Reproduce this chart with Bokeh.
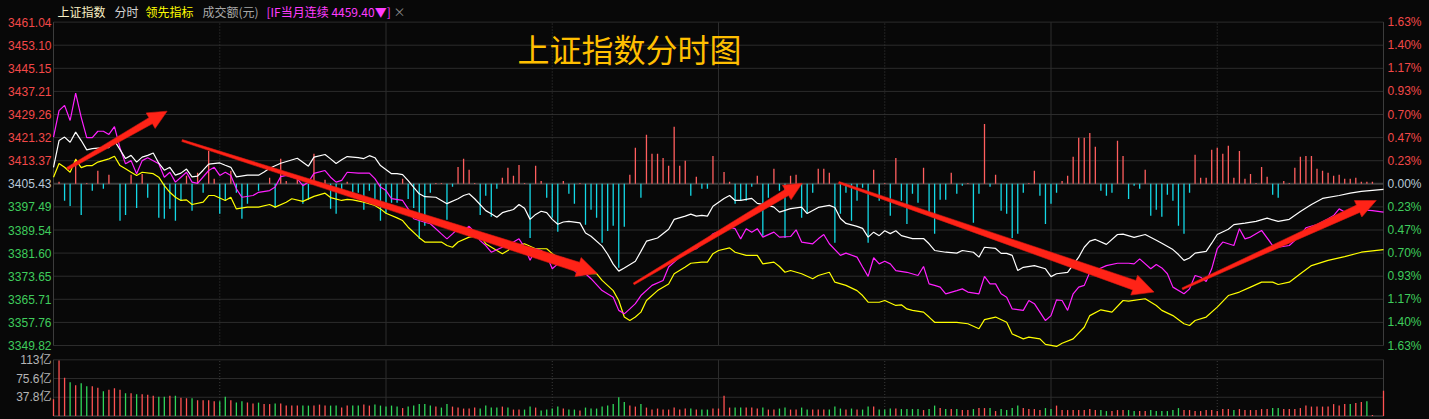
import math
from bokeh.plotting import figure
from bokeh.models import Range1d
from bokeh.core.properties import value
from bokeh.embed import file_html
from bokeh.resources import INLINE

# ---------------- data ----------------
PREV_CLOSE = 3405.43
price_ticks = [3461.04, 3453.10, 3445.15, 3437.21, 3429.26, 3421.32, 3413.37, 3405.43,
               3397.49, 3389.54, 3381.60, 3373.65, 3365.71, 3357.76, 3349.82]
vol_ticks = [113.4, 75.6, 37.8]
vol_tick_labels = ["113亿", "75.6亿", "37.8亿"]
header_texts = ["上证指数", "分时", "领先指标", "成交额(元)", "[IF当月连续 4459.40▼]", "×"]
title_text = "上证指数分时图"

white_t = [0, 1, 2, 3, 4, 5, 6, 7, 9, 10, 11, 13, 14, 15, 16, 17, 18, 19, 20, 21, 22, 23, 24, 25, 26, 27, 28,
           30, 31, 32, 33, 35, 37, 38, 39, 41, 44, 46, 47, 49, 50, 51, 52, 53, 55, 56, 57, 58, 59, 61, 62, 63,
           64, 65, 66, 67, 69, 71, 73, 74, 75, 76, 78, 79, 80, 81, 83, 84, 85, 86, 87, 88, 89, 90, 91, 92, 93,
           95, 96, 97, 99, 100, 101, 102, 103, 105, 106, 107, 109, 111, 112, 114, 115, 116, 117, 118, 119,
           121, 122, 123, 124, 126, 127, 129, 130, 131, 133, 135, 136, 138, 140, 141, 142, 143, 145, 146,
           147, 148, 149, 150, 151, 152, 153, 155, 157, 158, 159, 161, 163, 164, 166, 167, 168, 170, 171,
           172, 173, 174, 175, 177, 179, 180, 181, 183, 185, 186, 187, 188, 190, 192, 193, 195, 197, 199,
           200, 202, 203, 204, 205, 206, 208, 209, 210, 212, 213, 215, 217, 219, 221, 223, 225, 227, 229,
           232, 234, 236, 240]
white_v = [3411.1, 3420.3, 3421.5, 3419.7, 3423.2, 3420.3, 3417.1, 3417.5, 3417.9, 3417.9, 3420.3, 3414.1,
           3415.2, 3412.9, 3414.6, 3415.2, 3416.0, 3412.5, 3410.1, 3411.1, 3408.4, 3409.1, 3410.5, 3407.8,
           3408.1, 3410.1, 3412.2, 3412.6, 3411.8, 3411.1, 3407.8, 3408.4, 3408.4, 3409.5, 3410.8, 3412.5,
           3414.2, 3411.5, 3414.6, 3415.5, 3414.0, 3412.4, 3413.7, 3414.8, 3414.4, 3414.1, 3415.1, 3414.4,
           3411.7, 3408.9, 3408.9, 3408.6, 3406.5, 3404.2, 3402.0, 3401.0, 3400.8, 3398.6, 3400.3, 3401.4,
           3402.0, 3400.3, 3396.2, 3395.1, 3393.9, 3395.5, 3396.6, 3398.3, 3397.0, 3393.2, 3394.9, 3396.0,
           3395.5, 3393.2, 3391.5, 3392.3, 3392.5, 3392.0, 3388.5, 3387.4, 3384.0, 3381.2, 3377.8, 3375.4,
           3376.5, 3378.8, 3382.2, 3385.7, 3386.8, 3389.8, 3393.2, 3394.3, 3395.0, 3394.3, 3394.6, 3394.3,
           3397.7, 3400.4, 3401.4, 3399.7, 3399.7, 3400.4, 3398.7, 3398.0, 3397.4, 3395.7, 3396.9, 3397.4,
           3395.2, 3397.3, 3398.0, 3397.3, 3393.5, 3391.8, 3390.8, 3390.1, 3387.1, 3388.8, 3387.6, 3389.3,
           3388.3, 3389.3, 3387.6, 3386.6, 3386.6, 3384.8, 3382.5, 3381.9, 3381.6, 3382.5, 3381.9, 3380.2,
           3383.6, 3383.2, 3381.5, 3381.5, 3380.8, 3375.6, 3376.7, 3377.3, 3376.2, 3373.5, 3374.5, 3375.0,
           3380.2, 3383.6, 3385.7, 3386.3, 3384.6, 3388.0, 3388.1, 3387.0, 3388.0, 3386.0, 3385.0, 3382.8,
           3381.1, 3379.1, 3379.9, 3381.6, 3382.2, 3385.0, 3388.0, 3389.8, 3391.4, 3391.9, 3392.5, 3393.6,
           3392.5, 3393.2, 3395.9, 3398.3, 3400.4, 3401.4, 3402.2, 3402.8, 3403.5]

yellow_t = [0, 1, 2, 3, 4, 5, 6, 7, 8, 10, 11, 12, 13, 14, 15, 16, 18, 19, 20, 21, 22, 23, 24, 25, 27, 28, 29,
            31, 32, 33, 35, 37, 39, 40, 42, 43, 45, 47, 49, 50, 52, 53, 54, 56, 58, 59, 60, 62, 63, 64, 66,
            67, 70, 71, 72, 73, 75, 77, 78, 80, 81, 82, 83, 85, 87, 89, 90, 92, 94, 96, 98, 99, 101, 102,
            103, 104, 105, 106, 107, 109, 111, 112, 114, 115, 117, 118, 119, 120, 122, 123, 125, 127, 128,
            130, 131, 132, 133, 135, 137, 138, 140, 141, 143, 145, 146, 147, 149, 150, 152, 153, 154, 155,
            157, 158, 159, 161, 163, 165, 167, 168, 170, 172, 173, 175, 176, 178, 179, 181, 182, 184, 186,
            187, 189, 191, 193, 194, 197, 199, 200, 202, 204, 205, 206, 208, 210, 212, 214, 216, 218, 220,
            221, 223, 225, 227, 230, 233, 236, 240]
yellow_v = [3407.7, 3412.4, 3411.1, 3409.4, 3413.8, 3411.0, 3411.7, 3411.7, 3412.9, 3414.0, 3414.9, 3411.7,
            3410.6, 3409.4, 3408.3, 3409.4, 3408.9, 3407.7, 3404.8, 3402.5, 3400.8, 3399.7, 3399.9, 3398.3,
            3399.1, 3401.4, 3401.4, 3399.7, 3400.8, 3396.8, 3397.4, 3397.4, 3398.3, 3397.4, 3399.1, 3400.3,
            3399.4, 3401.1, 3402.2, 3400.7, 3399.7, 3400.1, 3399.9, 3399.1, 3398.0, 3396.8, 3395.3, 3393.7,
            3392.8, 3390.5, 3386.9, 3385.4, 3385.4, 3384.2, 3383.6, 3385.4, 3387.1, 3387.7, 3384.8, 3382.5,
            3381.4, 3382.5, 3384.2, 3384.8, 3383.1, 3383.1, 3381.4, 3379.1, 3376.8, 3374.5, 3374.5, 3372.2,
            3368.7, 3365.3, 3359.6, 3358.4, 3359.6, 3361.3, 3365.3, 3368.7, 3371.0, 3374.5, 3376.8, 3378.1,
            3378.5, 3378.5, 3381.4, 3382.5, 3383.4, 3381.9, 3380.8, 3380.8, 3377.9, 3378.5, 3377.0, 3375.0,
            3375.6, 3374.5, 3372.8, 3373.9, 3375.0, 3371.6, 3370.5, 3368.7, 3367.0, 3364.7, 3364.7, 3365.3,
            3363.6, 3363.8, 3362.4, 3361.9, 3361.3, 3359.6, 3357.8, 3357.8, 3357.8, 3357.3, 3355.6, 3358.7,
            3359.6, 3357.8, 3353.8, 3352.1, 3352.7, 3352.1, 3350.2, 3349.5, 3350.6, 3352.1, 3356.1, 3360.1,
            3362.1, 3361.3, 3365.3, 3365.1, 3365.9, 3363.6, 3361.9, 3360.1, 3357.3, 3356.7, 3358.4, 3359.6,
            3363.0, 3367.0, 3368.2, 3369.9, 3371.6, 3371.6, 3370.8, 3371.6, 3374.5, 3377.3, 3379.1, 3380.4,
            3381.9, 3382.8]

if_t = [0, 1, 2, 3, 4, 5, 6, 7, 8, 9, 10, 11, 12, 13, 14, 15, 16, 17, 19, 20, 21, 22, 23, 24, 25, 26, 28, 29,
        30, 31, 32, 33, 34, 36, 37, 39, 40, 41, 42, 44, 45, 46, 47, 49, 50, 51, 52, 53, 55, 57, 58, 59, 60,
        61, 63, 64, 65, 67, 68, 70, 71, 72, 73, 74, 75, 76, 77, 78, 79, 81, 82, 83, 84, 85, 86, 87, 88, 89,
        90, 91, 92, 93, 95, 96, 97, 99, 101, 102, 103, 104, 105, 106, 108, 110, 111, 113, 114, 116, 117,
        118, 119, 122, 123, 124, 125, 126, 127, 128, 130, 131, 133, 134, 135, 137, 138, 139, 140, 142, 143,
        145, 146, 147, 148, 149, 150, 151, 152, 154, 156, 157, 158, 159, 160, 161, 163, 164, 165, 167, 168,
        169, 170, 171, 172, 173, 175, 176, 177, 178, 179, 180, 181, 182, 183, 184, 185, 186, 187, 188, 190,
        192, 194, 195, 196, 198, 199, 200, 201, 202, 204, 205, 206, 207, 208, 209, 210, 211, 213, 214, 215,
        216, 218, 220, 221, 223, 225, 226, 228, 230, 231, 232, 233, 235, 236, 238, 240]
if_v = [3421.5, 3430.6, 3432.4, 3427.2, 3436.6, 3428.3, 3421.3, 3421.3, 3423.5, 3423.5, 3422.4, 3425.1,
        3417.8, 3412.3, 3413.4, 3408.9, 3413.4, 3414.4, 3412.3, 3407.7, 3409.4, 3406.0, 3407.7, 3409.4,
        3406.0, 3405.6, 3410.0, 3411.1, 3408.3, 3409.4, 3408.3, 3403.7, 3400.8, 3401.4, 3402.5, 3403.1,
        3404.3, 3407.9, 3408.3, 3407.2, 3404.8, 3406.0, 3409.0, 3410.0, 3407.7, 3406.0, 3406.6, 3409.4,
        3409.1, 3409.1, 3407.2, 3404.3, 3403.1, 3400.3, 3399.7, 3396.8, 3393.4, 3392.2, 3391.7, 3388.2,
        3386.5, 3388.2, 3390.0, 3389.4, 3390.8, 3388.8, 3385.9, 3384.2, 3381.9, 3383.6, 3384.8, 3385.4,
        3386.5, 3383.6, 3379.1, 3383.1, 3382.5, 3380.8, 3376.2, 3377.9, 3380.0, 3377.3, 3373.9, 3374.5,
        3372.8, 3368.7, 3366.4, 3361.9, 3360.7, 3362.4, 3364.2, 3367.0, 3370.5, 3372.2, 3376.8, 3380.2,
        3381.9, 3383.1, 3384.8, 3386.2, 3388.2, 3390.5, 3390.0, 3386.5, 3390.0, 3388.8, 3390.0, 3387.1,
        3388.8, 3387.1, 3387.3, 3389.6, 3385.4, 3384.8, 3386.5, 3388.0, 3384.8, 3380.8, 3381.6, 3380.2,
        3376.8, 3373.6, 3380.0, 3377.9, 3378.8, 3377.9, 3375.6, 3375.0, 3373.9, 3377.0, 3371.0, 3370.5,
        3369.9, 3367.6, 3368.7, 3369.3, 3368.2, 3367.6, 3373.6, 3371.0, 3371.0, 3367.6, 3366.4, 3362.4,
        3361.9, 3365.3, 3364.2, 3361.3, 3358.4, 3360.1, 3365.5, 3365.3, 3361.9, 3367.6, 3369.9, 3370.5,
        3375.0, 3375.6, 3377.3, 3378.1, 3378.1, 3377.9, 3379.6, 3376.2, 3377.7, 3376.5, 3374.5, 3369.9,
        3367.6, 3369.3, 3373.9, 3373.3, 3371.8, 3376.2, 3383.1, 3385.4, 3384.2, 3390.0, 3386.5, 3387.1,
        3389.4, 3384.2, 3383.6, 3384.2, 3387.7, 3390.3, 3391.4, 3393.4, 3394.5, 3396.8, 3395.7, 3396.2,
        3396.5, 3396.2, 3395.7]

# leading-indicator bars (index points above / below previous close), one per minute
lead = [0, 0.7, -5.8, -7.6, 8.6, -10.7, 0.3, -2.4, 4.5, -1.7,
        3.1, 0, -12.7, -10.7, 3.1, -8.3, 3.4, -4.8, 0, -11.7,
        -12.0, -8.6, -12.7, -5.8, 2.8, -9.3, 3.8, -3.1, 11.3, 1.7,
        -10.3, -5.8, 4.5, -3.1, -12.0, -6.9, 0, -2.4, 0, 2.1,
        -8.3, 8.6, 1.0, 0, 1.7, -6.9, -5.5, 10.3, 0, 1.4,
        -8.6, -10.3, -3.4, 0.7, -3.1, -3.1, -8.9, -2.4, -5.8, -12.7,
        -10.3, -6.5, -6.5, 1.7, -5.2, -8.3, -18.9, -14.4, -3.1, 0.3,
        0.3, -12.4, -1.0, 5.8, 8.6, 4.8, 0.3, -10.7, -4.1, -11.3,
        -1.7, 2.1, 5.5, 2.8, 6.5, 0.3, -18.6, 6.2, 1.0, -4.8,
        -11.7, -16.5, 1.0, -3.4, -6.9, 0.3, -14.1, -8.9, -11.7, -20.3,
        -16.2, -14.4, -28.9, -14.8, 3.1, 12.4, -4.8, 16.9, 10.3, 10.3,
        8.9, 6.2, 19.6, 6.2, 7.9, -4.1, 2.4, -1.7, -1.7, 9.6,
        0, 4.1, 0.7, -6.9, -5.8, -5.8, -1.0, 2.8, -17.9, -4.8,
        5.2, -2.4, -18.6, 2.8, 3.1, -11.7, -10.0, -3.1, 5.2, 5.2,
        3.8, -20.3, -10.3, -3.1, -12.7, -5.8, -1.4, -20.3, 4.8, -5.8,
        0.3, -11.0, 8.9, -5.8, -13.8, -3.4, -6.5, 5.5, -11.0, -17.2,
        -5.5, -5.5, 3.8, -3.4, -0.7, 0.3, -13.4, -3.4, 20.6, -1.0,
        3.1, -9.3, -10.3, -18.6, -17.2, -3.1, 0.3, 4.5, -4.1, -13.8,
        -6.9, -3.1, 1.0, 2.8, 9.3, 15.8, 15.8, 17.5, 12.7, -2.4,
        -4.1, -3.1, 14.8, 9.6, -5.2, -0.7, -1.7, 4.8, -11.0, -8.9,
        -11.3, -3.8, -5.8, -14.4, -17.2, -3.1, 10.0, 2.1, 2.1, 11.7,
        12.4, 10.3, 13.1, 2.1, 11.3, 1.7, 3.4, 0.3, 5.8, 2.4,
        -3.8, -4.8, 1.0, 0.3, 5.5, 9.3, 9.6, 9.6, 5.2, 4.5,
        3.8, 2.8, 3.1, 1.7, 1.7, 2.1, 0.7, 0.7, 0.7, 0,
        0]

# turnover per minute (亿元) and direction (1 = up / red, 0 = down / green)
vol = [34, 112, 77, 68, 62, 66, 60, 60, 57, 50,
       53, 56, 53, 46, 46, 44, 44, 43, 41, 39,
       39, 41, 41, 37, 36, 36, 32, 32, 32, 30,
       30, 39, 32, 27, 30, 27, 25, 27, 24, 24,
       25, 25, 21, 21, 21, 21, 21, 21, 23, 21,
       21, 21, 17, 21, 21, 21, 23, 21, 23, 21,
       19, 21, 19, 16, 19, 21, 24, 24, 21, 19,
       17, 24, 19, 17, 15, 15, 17, 15, 21, 17,
       17, 19, 17, 13, 13, 13, 19, 17, 11, 13,
       15, 19, 15, 13, 13, 11, 17, 15, 15, 19,
       21, 24, 38, 28, 21, 19, 24, 17, 13, 15,
       13, 13, 17, 13, 15, 15, 13, 13, 13, 15,
       15, 41, 17, 17, 17, 17, 17, 15, 17, 13,
       13, 15, 17, 13, 13, 17, 13, 13, 13, 13,
       13, 19, 15, 13, 15, 13, 13, 19, 19, 13,
       13, 15, 15, 14, 14, 14, 14, 12, 14, 21,
       16, 14, 14, 14, 12, 12, 14, 16, 16, 16,
       10, 14, 12, 16, 21, 16, 14, 14, 12, 16,
       14, 21, 12, 12, 12, 12, 12, 14, 12, 12,
       10, 10, 12, 12, 12, 10, 10, 10, 12, 10,
       10, 10, 12, 16, 12, 12, 10, 10, 12, 12,
       10, 14, 14, 12, 14, 12, 12, 12, 14, 14,
       16, 16, 14, 14, 14, 16, 21, 19, 19, 19,
       19, 24, 21, 24, 24, 26, 28, 30, 2, 0,
       51]
vol_up = [1, 1, 1, 0, 1, 0, 0, 1, 1, 0,
          1, 1, 1, 0, 1, 0, 1, 1, 1, 0,
          0, 1, 0, 1, 1, 0, 1, 1, 1, 1,
          0, 0, 1, 0, 0, 1, 1, 0, 1, 1,
          0, 1, 1, 1, 1, 0, 0, 1, 1, 1,
          0, 0, 1, 1, 0, 0, 1, 1, 0, 0,
          0, 0, 0, 1, 0, 0, 0, 0, 0, 1,
          0, 0, 1, 1, 1, 1, 1, 0, 0, 0,
          0, 1, 0, 1, 1, 0, 0, 1, 0, 0,
          0, 0, 1, 0, 0, 1, 0, 0, 0, 0,
          0, 0, 0, 0, 1, 1, 0, 1, 1, 1,
          1, 1, 1, 1, 1, 0, 1, 0, 0, 1,
          1, 1, 1, 0, 0, 1, 1, 1, 0, 1,
          1, 0, 0, 1, 1, 0, 0, 1, 1, 1,
          0, 0, 0, 1, 0, 1, 0, 0, 1, 0,
          0, 0, 1, 0, 0, 0, 0, 1, 0, 0,
          1, 0, 1, 0, 1, 1, 0, 1, 1, 0,
          1, 0, 0, 0, 0, 1, 1, 1, 1, 0,
          0, 1, 1, 1, 1, 1, 1, 1, 1, 0,
          0, 1, 1, 1, 0, 0, 1, 1, 0, 0,
          0, 0, 0, 0, 1, 1, 1, 1, 1, 1,
          1, 1, 1, 0, 1, 1, 1, 1, 1, 1,
          0, 0, 1, 1, 1, 1, 1, 1, 1, 1,
          1, 1, 1, 1, 0, 1, 1, 0, 1, 1,
          1]

# hand-drawn trend arrows: (start minute, start level, end minute, end level)
arrow_from_t = [2.5, 23.2, 104.7, 141.7, 203.7]
arrow_from_v = [3410.6, 3420.3, 3371.0, 3405.9, 3369.3]
arrow_to_t = [20.5, 98.1, 135.1, 198.6, 238.7]
arrow_to_v = [3430.4, 3374.7, 3405.6, 3368.2, 3399.7]

# ---------------- layout / style ----------------
W, H = 1429, 419
BG = "#080808"
GRID = "#2c2c2c"
PXM = 1330 / 240.0              # px per minute
X0PX = 53.0                     # canvas x of minute 0
x_start = -X0PX / PXM
x_end = x_start + W / PXM
Y_TOP_PX, Y_BOT_PX = 21.6, 345.0
PPX = (price_ticks[0] - price_ticks[-1]) / (Y_BOT_PX - Y_TOP_PX)   # points per px
y_end = price_ticks[0] + Y_TOP_PX * PPX
y_start = y_end - H * PPX
V0PX, VTPX = 415.5, 359.3
VPX = vol_ticks[0] / (V0PX - VTPX)
v_start = -(H - V0PX) * VPX
v_end = v_start + H * VPX
T_END = 240


def dx(xpx):
    return x_start + xpx / PXM


def dy(ypx):
    return y_end - ypx * PPX


p = figure(width=W, height=H, x_range=Range1d(x_start, x_end), y_range=Range1d(y_start, y_end),
           output_backend="svg", toolbar_location=None, x_axis_location=None, y_axis_location=None,
           min_border=0, background_fill_color=BG, border_fill_color=BG, outline_line_color=None)
p.extra_y_ranges = {"vol": Range1d(v_start, v_end)}
p.grid.visible = False

# ---- main panel grid ----
hz = [v for v in price_ticks if abs(v - PREV_CLOSE) > 1e-6]
p.segment(x0=[0] * len(hz), x1=[T_END] * len(hz), y0=hz, y1=hz, line_color=GRID, line_width=1)
p.segment(x0=[0], x1=[T_END], y0=[PREV_CLOSE], y1=[PREV_CLOSE], line_color="#3e3e3e", line_width=2)
solid_v = [60, 120, 180]
dot_v = [30, 90, 150, 210]
p.segment(x0=solid_v, x1=solid_v, y0=[price_ticks[-1]] * 3, y1=[price_ticks[0]] * 3,
          line_color=GRID, line_width=1)
p.segment(x0=dot_v, x1=dot_v, y0=[price_ticks[-1]] * 4, y1=[price_ticks[0]] * 4,
          line_color="#3a3a3a", line_width=1, line_dash="1 2")
p.segment(x0=[0, T_END], x1=[0, T_END], y0=[price_ticks[-1]] * 2, y1=[price_ticks[0]] * 2,
          line_color="#3c3c3c", line_width=1)

# ---- volume panel grid ----
p.segment(x0=[0] * 3, x1=[T_END] * 3, y0=vol_ticks, y1=vol_ticks, line_color=GRID, line_width=1,
          y_range_name="vol")
p.segment(x0=[0], x1=[T_END], y0=[0], y1=[0], line_color="#2a2a2a", line_width=2, y_range_name="vol")
p.segment(x0=solid_v, x1=solid_v, y0=[0] * 3, y1=[vol_ticks[0]] * 3, line_color=GRID, line_width=1,
          y_range_name="vol")
p.segment(x0=dot_v, x1=dot_v, y0=[0] * 4, y1=[vol_ticks[0]] * 4, line_color="#3a3a3a", line_width=1,
          line_dash="1 2", y_range_name="vol")
p.segment(x0=[0, T_END], x1=[0, T_END], y0=[0, 0], y1=[vol_ticks[0]] * 2, line_color="#3c3c3c",
          line_width=1, y_range_name="vol")

# ---- leading indicator bars ----
lt = [i for i, v in enumerate(lead) if v != 0]
lv = [lead[i] for i in lt]
p.segment(x0=lt, x1=lt, y0=[PREV_CLOSE] * len(lt), y1=[PREV_CLOSE + v for v in lv],
          line_color=["#ff5e5e" if v > 0 else "#14d8e6" for v in lv], line_width=1.3)

# ---- volume bars ----
vt = [i for i, v in enumerate(vol) if v > 0]
p.segment(x0=vt, x1=vt, y0=[0] * len(vt), y1=[vol[i] for i in vt],
          line_color=["#ff5252" if vol_up[i] else "#2fd65a" for i in vt], line_width=1.3,
          y_range_name="vol")

# ---- lines ----
p.line(yellow_t, yellow_v, line_color="#ffff00", line_width=1.2)
p.line(if_t, if_v, line_color="#ff20ff", line_width=1.2)
p.line(white_t, white_v, line_color="#ffffff", line_width=1.2)

# ---- arrows (tapered shaft + head) ----
arrow_style = [(3, 7, 18, 19), (2, 10, 20, 20), (2, 7, 17, 18), (2, 10, 21, 21), (2, 8, 18, 20)]
axs, ays = [], []
for k in range(len(arrow_from_t)):
    sx, sy = arrow_from_t[k] * PXM, arrow_from_v[k] / PPX
    ex, ey = arrow_to_t[k] * PXM, arrow_to_v[k] / PPX
    w0, w1, wh, hl = arrow_style[k]
    L = math.hypot(ex - sx, ey - sy)
    ux, uy = (ex - sx) / L, (ey - sy) / L
    nx, ny = -uy, ux
    bx, by = ex - ux * hl, ey - uy * hl
    pts = [(sx + nx * w0 / 2, sy + ny * w0 / 2), (bx + nx * w1 / 2, by + ny * w1 / 2),
           (bx + nx * wh / 2, by + ny * wh / 2), (ex, ey),
           (bx - nx * wh / 2, by - ny * wh / 2), (bx - nx * w1 / 2, by - ny * w1 / 2),
           (sx - nx * w0 / 2, sy - ny * w0 / 2)]
    axs.append([q[0] / PXM for q in pts])
    ays.append([q[1] * PPX for q in pts])
p.patches(axs, ays, fill_color="#ff2317", line_color="#d81a10", line_width=0.6)

# ---- axis labels ----
NUMF = value("Liberation Sans")
lab_col = ["#f24848" if v > PREV_CLOSE + 1e-6 else ("#b8c8d8" if abs(v - PREV_CLOSE) < 1e-6 else "#3fcc5c")
           for v in price_ticks]
p.text(x=[dx(51)] * len(price_ticks), y=price_ticks, text=["%.2f" % v for v in price_ticks],
       text_color=lab_col, text_font=NUMF, text_font_size="12px", text_align="right",
       text_baseline="middle")
pct = ["%.2f%%" % (abs(v - PREV_CLOSE) / PREV_CLOSE * 100) for v in price_ticks]
p.text(x=[dx(1387)] * len(price_ticks), y=price_ticks, text=pct, text_color=lab_col, text_font=NUMF,
       text_font_size="12px", text_align="left", text_baseline="middle")
p.text(x=[dx(51)] * 3, y=vol_ticks, text=vol_tick_labels, text_color="#b4b4b4",
       text_font=value("Liberation Sans, Noto Sans CJK SC"), text_font_size="12px", text_align="right",
       text_baseline="middle", y_range_name="vol")

# ---- header ----
hx = [57, 114, 145, 202, 266, 393]
hcol = ["#f8f0c4", "#d4d4d4", "#ffff00", "#a8a8a8", "#ff3cff", "#8c8c8c"]
p.text(x=[dx(v) for v in hx], y=[dy(11)] * len(hx), text=header_texts, text_color=hcol,
       text_font=value("Noto Sans CJK SC"), text_font_size="12px", text_align="left",
       text_baseline="middle")
p.text(x=[dx(517)], y=[dy(47)], text=[title_text], text_color="#ffbf00",
       text_font=value("Noto Sans CJK SC"), text_font_size="32px", text_align="left",
       text_baseline="middle")

html = file_html(p, INLINE, title="上证指数分时图")
html = html.replace("</head>", "<style>html,body{background:#080808;}</style></head>", 1)
open("out.html", "w", encoding="utf-8").write(html)
